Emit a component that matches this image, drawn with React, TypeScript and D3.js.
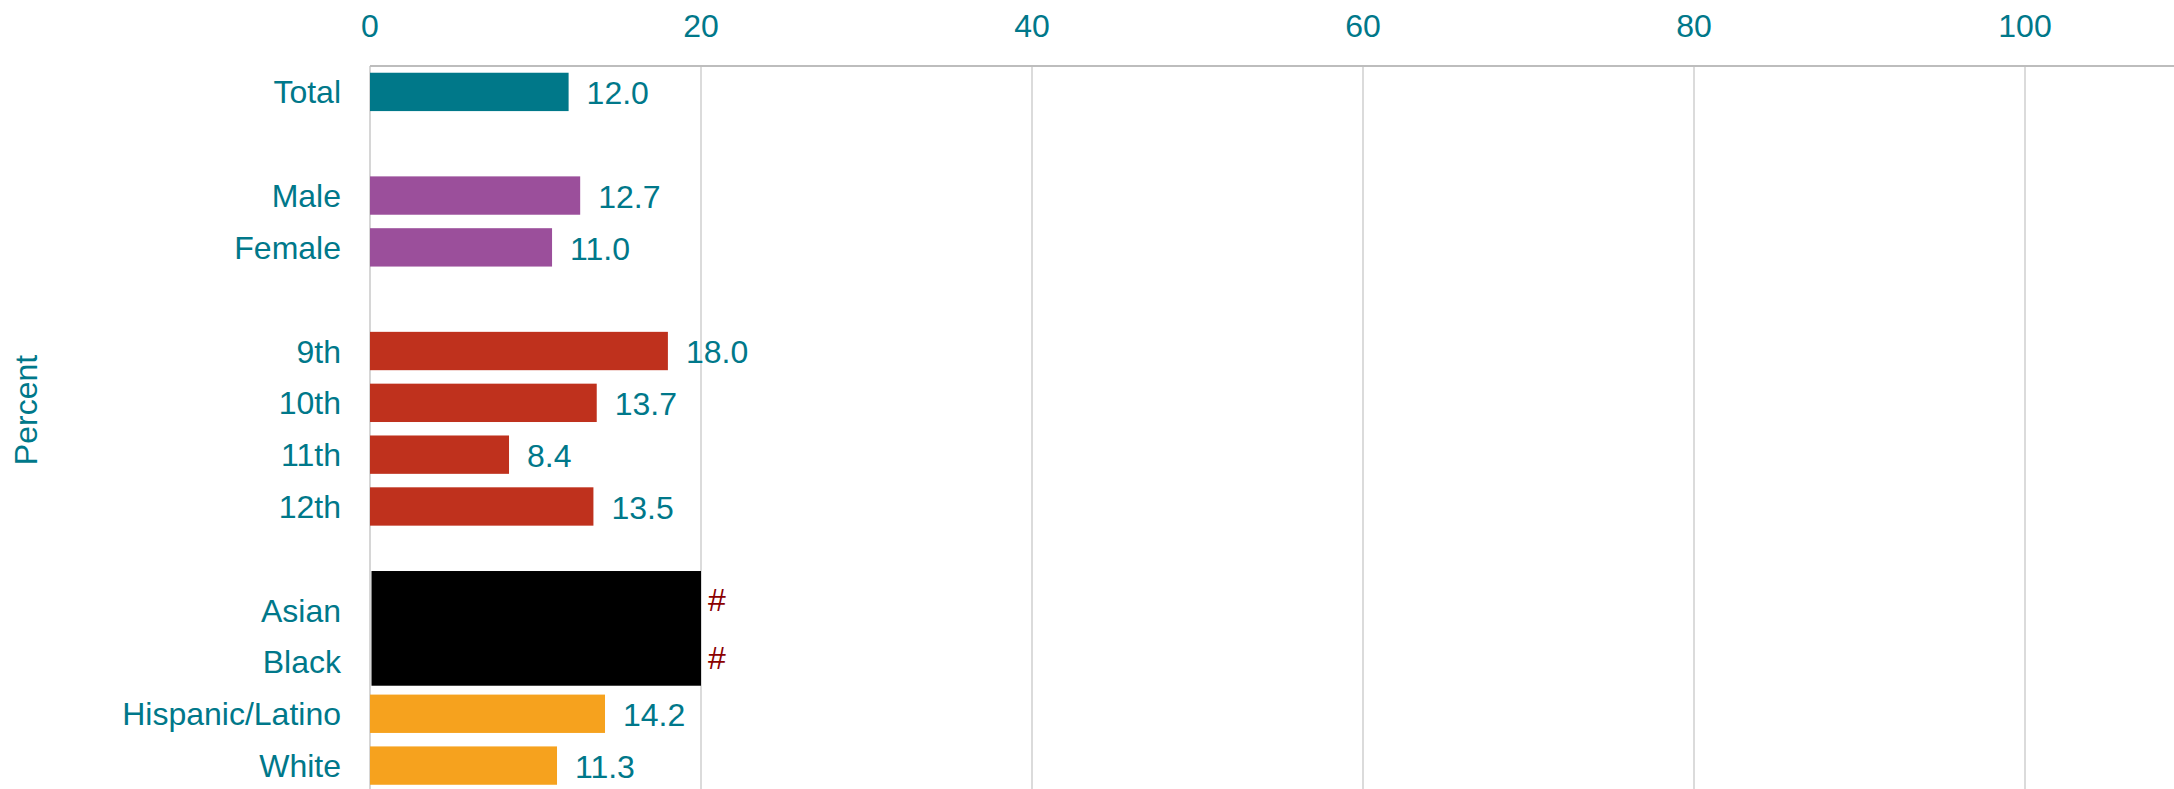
import { scaleBand, scaleLinear } from 'd3';

const W = 2174;
const H = 789;

// rows top to bottom; blank strings are spacer rows between groups
const CATEGORIES = [
  'Total',
  '',
  'Male',
  'Female',
  ' ',
  '9th',
  '10th',
  '11th',
  '12th',
  '  ',
  'Asian',
  'Black',
  'Hispanic/Latino',
  'White',
];
const VALUES: (number | null)[] = [12.0, null, 12.7, 11.0, null, 18.0, 13.7, 8.4, 13.5, null, null, null, 14.2, 11.3];
const GROUPS = ['total', '', 'sex', 'sex', '', 'grade', 'grade', 'grade', 'grade', '', 'race', 'race', 'race', 'race'];
const SUPPRESSED = ['Asian', 'Black'];
const SUPPRESS_EXTENT = 20;
const X_TICKS = [0, 20, 40, 60, 80, 100];

const GROUP_COLORS: Record<string, string> = {
  total: '#007889',
  sex: '#9b4f9b',
  grade: '#bf311d',
  race: '#f6a21e',
};
const TEXT = '#00788a';
const FONT = '"Liberation Sans", Arial, sans-serif';
const FS = 32;

const M = { top: 66, left: 370 };

export default function App() {
  const x = scaleLinear().domain([0, 100]).range([M.left, 2025]);
  const y = scaleBand<string>()
    .domain(CATEGORIES)
    .range([M.top, 791.5])
    .paddingInner(0.26)
    .paddingOuter(0.13);
  const bw = y.bandwidth();

  // black mask over the suppressed rows; each flag sits mid-row of the mask
  const sTop = (y(SUPPRESSED[0]) ?? 0) - bw * 0.52;
  const sBottom = (y(SUPPRESSED[SUPPRESSED.length - 1]) ?? 0) + bw * 1.12;
  const sRow = (sBottom - sTop) / SUPPRESSED.length;

  return (
    <svg
      width={W}
      height={H}
      style={{ position: 'absolute', left: 0, top: 0, background: '#fff' }}
      fontFamily={FONT}
    >
      {/* gridlines */}
      {X_TICKS.filter((t) => t > 0).map((t) => (
        <line key={t} x1={x(t)} x2={x(t)} y1={M.top} y2={H} stroke="#cfcfcf" strokeWidth={1.5} />
      ))}
      <line x1={x(0)} x2={x(0)} y1={M.top} y2={H} stroke="#c8c8c8" strokeWidth={1.5} />
      <line x1={x(0)} x2={W} y1={M.top} y2={M.top} stroke="#bdbdbd" strokeWidth={2} />

      {/* top tick labels */}
      {X_TICKS.map((t) => (
        <text key={t} x={x(t)} y={37} textAnchor="middle" fontSize={FS} fill={TEXT}>
          {t}
        </text>
      ))}

      {/* bars + value labels */}
      {CATEGORIES.map((c, i) => {
        const v = VALUES[i];
        if (v == null) return null;
        const y0 = y(c) ?? 0;
        return (
          <g key={c}>
            <rect x={x(0)} y={y0} width={x(v) - x(0)} height={bw} fill={GROUP_COLORS[GROUPS[i]]} />
            <text x={x(v) + 18} y={y0 + bw / 2} dy="0.38em" fontSize={FS} fill={TEXT}>
              {v.toFixed(1)}
            </text>
          </g>
        );
      })}

      {/* suppressed estimates */}
      <rect
        x={x(0) + 1.5}
        y={sTop}
        width={x(SUPPRESS_EXTENT) - x(0) - 1.5}
        height={sBottom - sTop}
        fill="#000"
      />
      {SUPPRESSED.map((c, i) => (
        <text
          key={c}
          x={x(SUPPRESS_EXTENT) + 7}
          y={sTop + sRow * (i + 0.5)}
          dy="0.36em"
          fontSize={FS}
          fill="#8b0000"
        >
          #
        </text>
      ))}

      {/* category labels */}
      {CATEGORIES.map((c) =>
        c.trim() ? (
          <text
            key={c}
            x={x(0) - 29}
            y={(y(c) ?? 0) + bw / 2}
            dy="0.36em"
            textAnchor="end"
            fontSize={FS}
            fill={TEXT}
          >
            {c}
          </text>
        ) : null,
      )}

      {/* axis title */}
      <text transform="translate(37,410) rotate(-90)" textAnchor="middle" fontSize={FS} fill={TEXT}>
        Percent
      </text>
    </svg>
  );
}
